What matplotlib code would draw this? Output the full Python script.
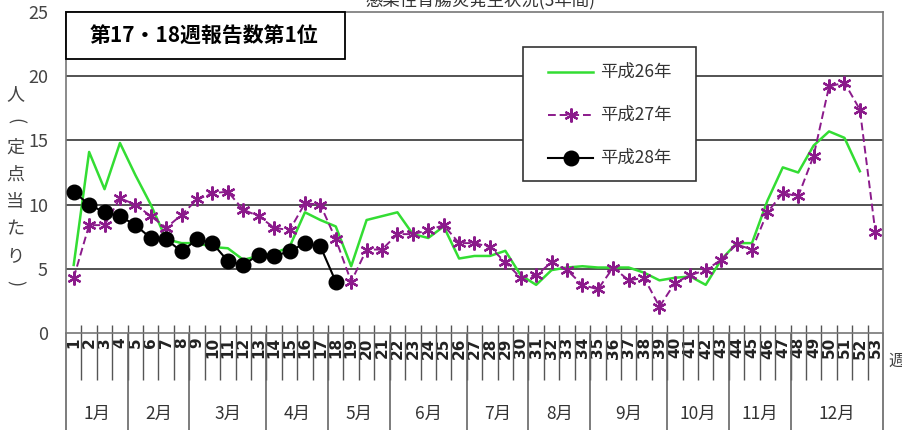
import matplotlib.pyplot as plt
import numpy as np

plt.rcParams['font.family'] = ['Noto Sans CJK JP', 'DejaVu Sans']

# weekly values (per sentinel site)
weeks = np.arange(1, 54)
h26 = [5.3, 14.1, 11.2, 14.8, 12.3, 10.0, 7.3, 7.0, 7.0, 6.7,
       6.6, 5.7, 6.0, 6.2, 6.7, 9.4, 8.8, 8.3, 5.2, 8.8,
       9.1, 9.4, 7.7, 7.4, 8.3, 5.8, 6.0, 6.0, 6.4, 4.5,
       3.75, 4.9, 5.1, 5.2, 5.1, 5.1, 5.1, 4.7, 4.1, 4.3,
       4.4, 3.75, 5.7, 7.0, 7.0, 10.3, 12.9, 12.5, 14.6, 15.7,
       15.2, 12.6]
h27 = [4.3, 8.4, 8.4, 10.5, 10.0, 9.1, 8.2, 9.2, 10.4, 10.9,
       11.0, 9.6, 9.1, 8.2, 8.0, 10.1, 10.0, 7.3, 4.0, 6.5,
       6.5, 7.7, 7.7, 8.0, 8.4, 7.0, 7.0, 6.7, 5.5, 4.3,
       4.5, 5.5, 4.9, 3.75, 3.4, 5.1, 4.1, 4.3, 2.05, 3.9,
       4.5, 4.9, 5.7, 6.9, 6.5, 9.4, 10.9, 10.65, 13.8, 19.2,
       19.5, 17.4, 7.9]
h28 = [11.0, 10.0, 9.4, 9.1, 8.4, 7.4, 7.3, 6.35, 7.3, 7.0,
       5.6, 5.3, 6.1, 6.0, 6.35, 7.0, 6.75, 4.0]

months = ['1月', '2月', '3月', '4月', '5月', '6月',
          '7月', '8月', '9月', '10月', '11月', '12月']
month_last_week = [4, 8, 13, 17, 21, 26, 30, 34, 39, 43, 47, 53]
labels = ['平成26年', '平成27年', '平成28年']

W, H = 903, 430
fig = plt.figure(figsize=(W / 100, H / 100), dpi=100)
ax = fig.add_axes([66 / W, 97 / H, 817 / W, 321 / H])


def axc(px, py):
    # pixel position -> axes fraction
    return (px - 66) / 817, (333 - py) / 321


styles = [dict(color='#33dd33', lw=1.8),
          dict(color='#8b1a8b', lw=1.4, ls=(0, (4, 2)), marker=(6, 2, 0), ms=10, mew=1.6),
          dict(color='black', lw=1.5, marker='o', ms=10.5)]

ax.plot(weeks[:len(h26)], h26, zorder=3, **styles[0])
ax.plot(weeks, h27, zorder=4, **styles[1])
ax.plot(weeks[:len(h28)], h28, zorder=5, **styles[2])

ax.set_xlim(0.5, 53.5)
ax.set_ylim(0, 25)
ax.set_yticks(range(0, 26, 5))
for v in range(5, 25, 5):
    ax.axhline(v, color='#444444', lw=1.3, zorder=1)

for s in ax.spines.values():
    s.set_color('#777777')
    s.set_linewidth(1.2)

ax.tick_params(axis='y', length=0, pad=13, labelsize=13, labelcolor='#444444')
ax.set_xticks(weeks)
ax.set_xticklabels([str(w) for w in weeks], rotation=90, fontsize=11,
                   fontweight='bold', family='DejaVu Sans', color='#222222')
ax.tick_params(axis='x', length=0, pad=3)

# week separators and month separators below the axis
xt = ax.get_xaxis_transform()
bounds = np.arange(1.5, 53, 1)
ax.vlines(bounds, -0.145, 0.025, color='#555555', lw=1.0, transform=xt, clip_on=False)
ax.vlines([0.5] + [m + 0.5 for m in month_last_week], -0.31, 0, color='#666666',
          lw=1.2, transform=xt, clip_on=False)
first = 1
for name, last in zip(months, month_last_week):
    ax.text((first + last) / 2, -0.252, name, transform=xt, ha='center', va='center',
            fontsize=12.5, color='#333333')
    first = last + 1
fig.text(897 / W, 1 - 361 / H, '週', ha='center', va='center', fontsize=12, color='#444444')

# y label, vertical stacked characters
ylab = ['人', '(', '定', '点', '当', 'た', 'り', ')']
for k, ch in enumerate(ylab):
    rot = -90 if ch in '()' else 0
    fig.text(15 / W, 1 - (94 + k * 27) / H, ch, ha='center', va='center',
             fontsize=13, color='#444444', rotation=rot)

# title (cut off at the top, as in the source)
fig.text(480 / W, 1.0, '感染性胃腸炎発生状況(3年間)', ha='center', va='center',
         fontsize=12.5, color='#333333')

# annotation box
x0, y0 = axc(66, 59)
x1, y1 = axc(345, 12)
ax.add_patch(plt.Rectangle((x0, y0), x1 - x0, y1 - y0, transform=ax.transAxes,
                           facecolor='white', edgecolor='black', lw=1.3,
                           zorder=5, clip_on=False))
tx, ty = axc(204, 35)
ax.text(tx, ty, '第17・18週報告数第1位', transform=ax.transAxes, ha='center',
        va='center', fontsize=15, fontweight='bold', zorder=6)

# legend box drawn by hand
lx0, ly0 = axc(523, 181)
lx1, ly1 = axc(696, 47)
ax.add_patch(plt.Rectangle((lx0, ly0), lx1 - lx0, ly1 - ly0, transform=ax.transAxes,
                           facecolor='white', edgecolor='#333333', lw=1.2, zorder=7))
for k, (lab, st) in enumerate(zip(labels, styles)):
    py = 72 + k * 43
    hx0, hy = axc(548, py)
    hx1, _ = axc(593, py)
    line_st = {key: val for key, val in st.items() if key not in ('marker', 'ms', 'mew')}
    ax.plot([hx0, hx1], [hy, hy], transform=ax.transAxes, zorder=8, **line_st)
    if 'marker' in st:
        ax.plot([(hx0 + hx1) / 2], [hy], transform=ax.transAxes, ls='none',
                color=st['color'], marker=st['marker'], ms=st['ms'],
                mew=st.get('mew', 1.0), zorder=9)
    lx, _ = axc(600, py)
    ax.text(lx, hy, lab, transform=ax.transAxes, ha='left', va='center',
            fontsize=12.5, color='#333333', zorder=9)

fig.savefig('out.png', dpi=100)
